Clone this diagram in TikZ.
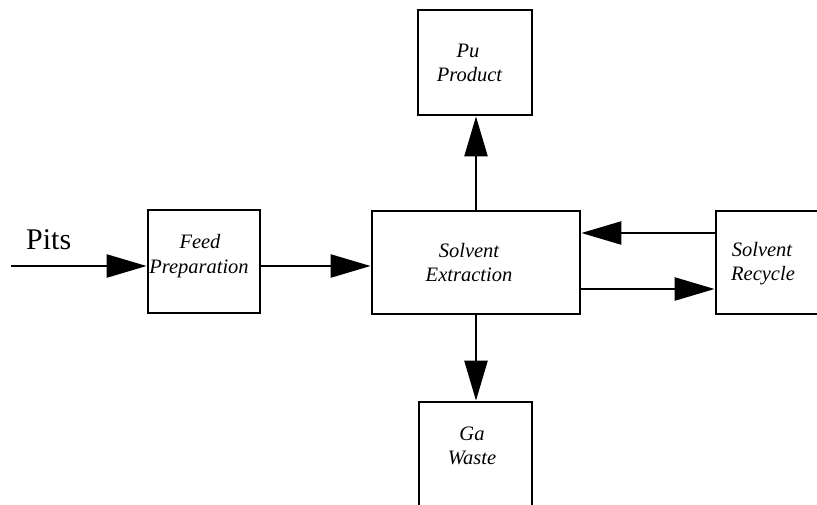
\documentclass[tikz,border=0pt]{standalone}
\usepackage{fontspec}
\setmainfont{Liberation Serif}
\usetikzlibrary{arrows.meta}
\begin{document}
\begin{tikzpicture}[x=1pt,y=-1pt,
  box/.style={draw,line width=2.8pt,minimum width=#1,inner sep=0pt},
  lbl/.style={anchor=base,inner sep=0pt,font=\fontsize{20.5}{24}\selectfont\itshape},
  arr/.style={line width=2.5pt,-{Triangle[length=40pt,width=23pt]}}]
\useasboundingbox (0,0) rectangle (817,504);
\clip (0,0) rectangle (817,504);
\fill[white] (0,0) rectangle (817,504);
% boxes
\node[box=112pt,minimum height=103pt] (feed) at (204,261.5) {};
\node[box=208pt,minimum height=103pt] (se) at (476,262.5) {};
\node[box=112pt,minimum height=103pt] (sr) at (772,262.5) {};
\node[box=114pt,minimum height=105pt] (pu) at (475,62.5) {};
\node[box=113pt,minimum height=105pt] (ga) at (475.5,454.5) {};
% texts
\node[lbl] (feed1) at (200,248) {Feed};
\node[lbl] (feed2) at (199,273) {Preparation};
\node[lbl] (se1) at (469,257) {Solvent};
\node[lbl] (se2) at (469,281) {Extraction};
\node[lbl] (sr1) at (762,256) {Solvent};
\node[lbl] (sr2) at (763,280) {Recycle};
\node[lbl] (pu1) at (468,57) {Pu};
\node[lbl] (pu2) at (469.5,81) {Product};
\node[lbl] (ga1) at (472,440) {Ga};
\node[lbl] (ga2) at (472,464) {Waste};
\node[anchor=base west,inner sep=0pt,font=\fontsize{30}{34}\selectfont] (pits) at (26,249) {Pits};
% connectors
\coordinate (in) at (11,266);
\coordinate (up) at (0,233);
\coordinate (low) at (0,289);
\draw[arr] (in) -- (in -| feed.west);
\draw[arr] (in -| feed.east) -- (in -| se.west);
\draw[arr] (se.north) -- (se.north |- pu.south);
\draw[arr] (se.south) -- (se.south |- ga.north);
\draw[arr] (up -| sr.west) -- (up -| se.east);
\draw[arr] (low -| se.east) -- (low -| sr.west);
\end{tikzpicture}
\end{document}
